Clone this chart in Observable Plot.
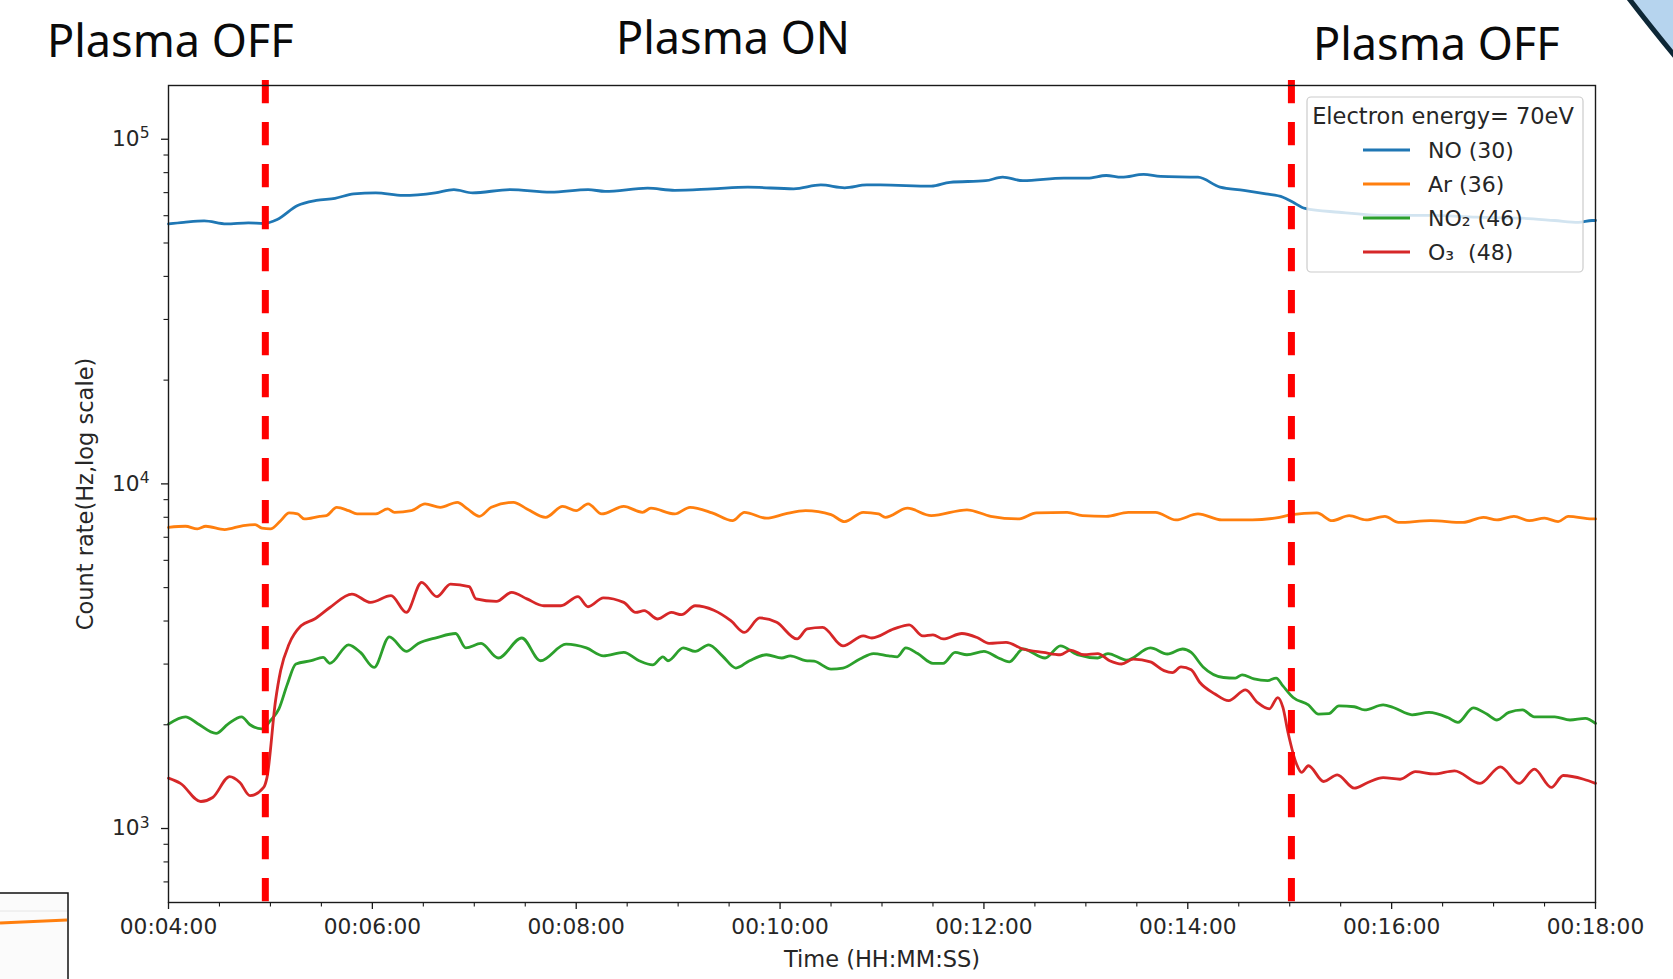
<!DOCTYPE html>
<html>
<head>
<meta charset="utf-8">
<script src="https://cdn.jsdelivr.net/npm/d3@7"></script>
<script src="https://cdn.jsdelivr.net/npm/@observablehq/plot@0.6"></script>
<style>
  html, body { margin: 0; padding: 0; background: #ffffff; }
  #page { position: relative; width: 1673px; height: 979px; overflow: hidden; background: #fff; }
  #chart { position: absolute; left: 0; top: 0; }
  #overlay { position: absolute; left: 0; top: 0; pointer-events: none; }
</style>
</head>
<body>
<div id="page">
  <div id="chart"></div>
  <svg id="overlay" width="1673" height="979"></svg>
</div>
<script>
// ---------------- data (time in seconds, count rate in Hz) ----------------
const seriesNames  = ["NO (30)", "Ar (36)", "NO₂ (46)", "O₃  (48)"];
const seriesColors = ["#1f77b4", "#ff7f0e", "#2ca02c", "#d62728"];
const legendTitle  = "Electron energy= 70eV";
const phaseLabels  = ["Plasma OFF", "Plasma ON", "Plasma OFF"];
const plasmaSwitchTimes = [297, 901];

const noTime = [240,249,261,274,287,296,304,316,327,338,349,362,378,397,408,419,441,465,487,497,522,538,560,581,608,624,638,651,659,689,700,721,731,743,767,781,792,801,814,824,846,859,873,886,896,902,909,929,956,983,1010,1037,1056,1070,1078,1080];
const noCount = [56800,57400,57960,56800,57200,56950,58500,64230,66430,67400,69400,69900,68700,69900,71400,69900,71400,70200,71400,70600,72100,71100,71800,72600,71800,73700,72300,73700,73700,73100,75000,75800,77600,75800,77100,77100,78500,77600,79100,78000,77600,72600,71100,69400,67900,65600,63000,61400,60100,60100,59400,59000,58100,57400,58100,58100];

const arTime = [240,250,257,262,273,284,291,295,300,306,311,316,320,329,333,339,346,351,362,369,373,383,391,400,410,416,423,430,443,451,462,472,480,487,495,508,519,524,538,547,560,572,579,592,603,615,630,638,649,658,662,675,689,710,724,740,751,769,778,792,805,821,833,846,860,878,894,901,916,925,935,945,956,964,983,1002,1014,1022,1032,1041,1050,1058,1064,1078,1080];
const arCount = [7480,7535,7400,7535,7370,7570,7620,7435,7400,7820,8240,8180,7910,8050,8090,8550,8360,8180,8180,8460,8270,8360,8750,8550,8840,8460,8050,8550,8840,8460,8000,8600,8360,8750,8180,8600,8270,8500,8180,8550,8240,7820,8270,7950,8180,8360,8140,7770,8270,8180,8000,8500,8090,8410,8050,7910,8240,8270,8090,8050,8270,8270,7860,8180,7860,7860,8000,8140,8240,7820,8090,7860,8050,7730,7820,7730,8000,7860,8050,7820,7950,7770,8050,7910,7910];

const no2Time = [240,250,257,268,275,283,288,295,300,305,310,315,324,331,335,346,353,361,370,380,387,398,409,415,424,434,448,459,474,486,496,508,517,525,531,534,543,550,558,566,574,582,592,601,606,615,620,630,637,647,655,664,669,674,681,690,696,703,710,720,728,735,743,756,765,775,787,793,804,818,828,837,842,849,861,868,872,879,887,892,896,902,911,917,923,929,938,944,955,961,972,982,993,999,1008,1016,1022,1029,1037,1044,1056,1065,1074,1080];
const no2Count = [2009,2109,2018,1888,2009,2109,2000,1945,2057,2224,2627,3002,3068,3136,3015,3413,3243,2933,3600,3266,3444,3582,3680,3342,3444,3124,3571,3068,3428,3342,3170,3243,3068,2985,3150,3068,3342,3266,3413,3170,2922,3068,3193,3124,3170,3068,3058,2902,2922,3102,3219,3170,3150,3342,3219,3015,3015,3243,3193,3266,3136,3045,3318,3124,3390,3193,3124,3219,3080,3342,3209,3318,3243,2943,2743,2733,2793,2716,2686,2733,2593,2399,2284,2148,2155,2270,2256,2208,2284,2245,2138,2172,2099,2032,2240,2148,2065,2172,2208,2109,2109,2065,2088,2018];

const o3Time = [240,247,259,266,276,282,288,296,298,303,306,311,318,326,335,348,359,371,380,389,398,406,417,421,433,442,451,461,471,481,487,496,508,515,520,528,536,542,550,561,571,579,588,598,610,616,625,637,649,654,667,676,684,690,696,707,716,723,733,743,755,765,771,779,787,794,801,808,818,826,831,836,842,847,856,864,874,881,888,893,896,899,904,907,911,920,928,938,946,955,965,974,985,997,1012,1024,1035,1044,1054,1061,1073,1080];
const o3Count = [1400,1352,1198,1230,1415,1360,1245,1316,1407,2349,2872,3429,3873,4054,4379,4790,4530,4737,4237,5179,4708,5120,5031,4637,4561,4846,4637,4430,4430,4708,4400,4670,4530,4237,4285,4054,4237,4173,4430,4300,4010,3706,4083,3966,3548,3795,3833,3390,3622,3571,3795,3900,3622,3648,3548,3680,3582,3444,3467,3318,3243,3193,3295,3193,3219,3068,3002,3102,3045,2872,2835,2943,2887,2657,2457,2349,2524,2321,2224,2399,2245,1900,1539,1455,1521,1369,1431,1310,1360,1405,1390,1463,1440,1470,1352,1510,1352,1487,1316,1425,1390,1352];

// axis ticks
const xMajorTicks = [240, 360, 480, 600, 720, 840, 960, 1080];
const xMinorTicks = [270, 300, 330, 390, 420, 450, 510, 540, 570, 630, 660, 690, 750, 780, 810, 870, 900, 930, 990, 1020, 1050];
const yMajorTicks = [1e3, 1e4, 1e5];
const yMinorTicks = [700, 800, 900, 2000, 3000, 4000, 5000, 6000, 7000, 8000, 9000, 20000, 30000, 40000, 50000, 60000, 70000, 80000, 90000];
const xDomain = [240, 1080];
const yDomain = [610, 143200];

// ---------------- build table ----------------
const seriesTimes = [noTime, arTime, no2Time, o3Time];
const seriesCounts = [noCount, arCount, no2Count, o3Count];
const rows = [];
seriesNames.forEach((name, i) => {
  seriesTimes[i].forEach((t, j) => rows.push({series: name, t, v: seriesCounts[i][j]}));
});

const pad2 = n => String(n).padStart(2, "0");
const fmtTime = s => `${pad2(Math.floor(s / 3600))}:${pad2(Math.floor(s / 60) % 60)}:${pad2(s % 60)}`;
const fmtPow = v => "10^" + Math.round(Math.log10(v));

const textColor = "#262626";
const axisColor = "#1a1a1a";

const chart = Plot.plot({
  width: 1673,
  height: 979,
  marginLeft: 168,
  marginRight: 78,
  marginTop: 85,
  marginBottom: 77,
  style: {fontFamily: "DejaVu Sans", fontSize: "21.7px", color: textColor, background: "transparent"},
  x: {type: "linear", domain: xDomain},
  y: {type: "log", domain: yDomain},
  color: {domain: seriesNames, range: seriesColors},
  marks: [
    Plot.line(rows, {x: "t", y: "v", z: "series", stroke: "series", strokeWidth: 2.8, strokeLinejoin: "round", curve: "monotone-x"}),
    Plot.ruleX(plasmaSwitchTimes, {x: d => d, stroke: "#ff0000", strokeWidth: 7, strokeDasharray: "23.3,18.7", insetTop: -5}),
    Plot.frame({stroke: axisColor, strokeWidth: 1.4}),
    Plot.axisX({ticks: xMajorTicks, tickFormat: fmtTime, tickSize: 7, tickPadding: 9, fontSize: 21.7, label: null, stroke: axisColor, strokeWidth: 1.3, fill: textColor}),
    Plot.axisX({ticks: xMinorTicks, tickFormat: () => "", tickSize: 4.5, label: null, stroke: axisColor, strokeWidth: 1.1}),
    Plot.axisY({ticks: yMajorTicks, tickFormat: fmtPow, tickSize: 7, tickPadding: 12, fontSize: 21.7, label: null, stroke: axisColor, strokeWidth: 1.3, fill: textColor}),
    Plot.axisY({ticks: yMinorTicks, tickFormat: () => "", tickSize: 4.5, label: null, stroke: axisColor, strokeWidth: 1.1}),
    Plot.text(["Time (HH:MM:SS)"], {text: d => d, frameAnchor: "bottom", dy: 64, fontSize: 22.5, fill: textColor}),
    Plot.text(["Count rate(Hz,log scale)"], {text: d => d, frameAnchor: "left", textAnchor: "middle", dx: -83, rotate: -90, fontSize: 22.5, fill: textColor})
  ]
});
document.getElementById("chart").appendChild(chart);

// render "10^k" tick labels as 10 with a raised exponent (matplotlib mathtext look)
d3.select(chart).selectAll("text").each(function() {
  const el = d3.select(this);
  const s = el.text();
  const m = /^10\^(\d+)$/.exec(s);
  if (!m) return;
  el.text("");
  el.append("tspan").text("10");
  el.append("tspan").attr("dy", "-0.5em").attr("font-size", "15.5px").text(m[1]);
});

// ---------------- legend (matplotlib style, semi-transparent box) ----------------
const svg = d3.select(chart);
const lg = svg.append("g").attr("font-family", "DejaVu Sans").attr("font-size", 22).attr("fill", textColor);
lg.append("rect").attr("x", 1307).attr("y", 97).attr("width", 276).attr("height", 175).attr("rx", 4)
  .attr("fill", "#ffffff").attr("fill-opacity", 0.8).attr("stroke", "#cccccc").attr("stroke-width", 1.2);
lg.append("text").attr("x", 1443).attr("y", 124).attr("text-anchor", "middle").attr("font-size", 22.5).text(legendTitle);
seriesNames.forEach((name, i) => {
  const yy = 150 + i * 34;
  lg.append("line").attr("x1", 1363).attr("x2", 1410).attr("y1", yy).attr("y2", yy)
    .attr("stroke", seriesColors[i]).attr("stroke-width", 3);
  lg.append("text").attr("x", 1428).attr("y", yy + 8).attr("text-anchor", "start")
    .style("white-space", "pre").text(name);
});

// ---------------- slide annotations / decorations ----------------
const ov = d3.select("#overlay");
// top-right decorative circle edge
ov.append("path").attr("d", "M1627,-4 Q1650,26 1678,60 L1678,-4 Z").attr("fill", "#b6d4ee");
ov.append("path").attr("d", "M1627,-4 Q1650,26 1678,60").attr("fill", "none").attr("stroke", "#0d2736").attr("stroke-width", 5);
// bottom-left fragment of neighbouring picture
ov.append("rect").attr("x", -3).attr("y", 893).attr("width", 71).attr("height", 95).attr("fill", "#fbfbfb").attr("stroke", "#111").attr("stroke-width", 1.5);
ov.append("line").attr("x1", 0).attr("x2", 67).attr("y1", 911).attr("y2", 911).attr("stroke", "#e6e6e6").attr("stroke-width", 1);
ov.append("line").attr("x1", 0).attr("x2", 67).attr("y1", 923).attr("y2", 920).attr("stroke", "#ff7f0e").attr("stroke-width", 3);
// phase titles
const titlePos = [[47, 57], [616, 54], [1313, 60]];
phaseLabels.forEach((t, i) => {
  ov.append("text").attr("x", titlePos[i][0]).attr("y", titlePos[i][1])
    .attr("font-family", "Noto Sans").attr("font-size", 45).attr("fill", "#0a0a0a").text(t);
});
</script>
</body>
</html>
